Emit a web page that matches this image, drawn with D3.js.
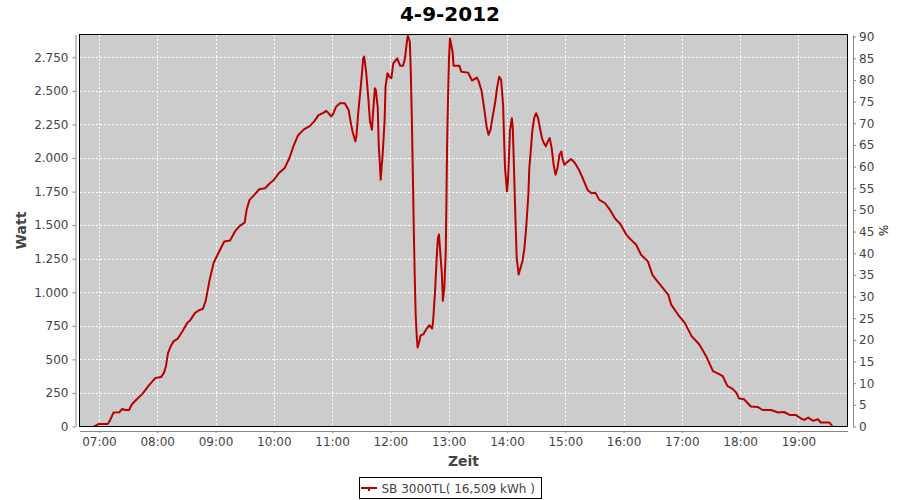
<!DOCTYPE html>
<html>
<head>
<meta charset="utf-8">
<script src="https://cdn.jsdelivr.net/npm/d3@7"></script>
<style>
  html, body { margin: 0; padding: 0; background: #fff; }
  svg { display: block; font-family: "DejaVu Sans", sans-serif; }
</style>
</head>
<body>
<svg id="chart" width="900" height="500"></svg>
<script>
// ---- data ----
const chartTitle = "4-9-2012";
const seriesName = "SB 3000TL( 16,509 kWh )";
const times = [
  "06:55","07:00","07:09","07:11","07:15","07:21","07:24","07:27","07:31","07:34",
  "07:39","07:45","07:51","07:58","08:04","08:07","08:09","08:11","08:14","08:17",
  "08:21","08:26","08:31","08:34","08:39","08:43","08:47","08:50","08:54","08:58",
  "09:03","09:09","09:15","09:20","09:25","09:30","09:32","09:35","09:39","09:45",
  "09:51","09:56","10:00","10:05","10:11","10:16","10:20","10:25","10:31","10:37",
  "10:42","10:46","10:51","10:54","10:56","10:59","11:01","11:04","11:08","11:13",
  "11:17","11:19","11:21","11:24","11:25","11:27","11:30","11:32","11:33","11:35",
  "11:37","11:39","11:41","11:42","11:44","11:45","11:47","11:48","11:49","11:50",
  "11:52","11:54","11:55","11:57","11:59","12:01","12:03","12:07","12:10","12:13",
  "12:15","12:17","12:18","12:20","12:21","12:22","12:23","12:24","12:25","12:26",
  "12:27","12:28","12:30","12:31","12:34","12:37","12:40","12:43","12:44","12:46",
  "12:48","12:49","12:50","12:51","12:53","12:54","12:55:30","12:57","12:57:40","12:58:20",
  "12:59:20","13:00:20","13:01:20","13:02","13:04","13:05","13:11","13:13","13:20","13:24",
  "13:29","13:31","13:34","13:37","13:39","13:41","13:43","13:45","13:48","13:50",
  "13:52","13:54","13:56","13:57","13:58","14:00","14:01","14:02","14:03","14:05",
  "14:06","14:07","14:08","14:09","14:10","14:12","14:14","14:16","14:18","14:20",
  "14:22","14:23","14:25","14:26","14:28","14:30","14:32","14:34","14:36","14:38",
  "14:40","14:42","14:44","14:46","14:48","14:50","14:52","14:54","14:56","14:57",
  "14:59","15:03","15:06","15:10","15:14","15:18","15:23","15:27","15:31","15:35",
  "15:41","15:46","15:51","15:54","15:56","16:01","16:03","16:06","16:13","16:18",
  "16:25","16:30","16:37","16:44","16:46","16:49","16:56","17:03","17:10","17:18",
  "17:25","17:32","17:37","17:42","17:47","17:52","17:56","17:59","18:04","18:11",
  "18:18","18:23","18:32","18:39","18:45","18:51","18:57","19:03","19:06","19:10",
  "19:15","19:20","19:23","19:32","19:35"
];
const watts = [
  0,19,19,40,104,106,131,123,123,166,
  203,245,302,361,368,401,450,544,599,636,
  653,710,772,792,846,866,876,940,1094,1218,
  1292,1378,1386,1453,1495,1519,1614,1688,1718,1767,
  1775,1812,1836,1886,1923,1998,2084,2170,2213,2237,
  2277,2319,2336,2351,2336,2310,2326,2381,2408,2408,
  2358,2272,2198,2124,2161,2346,2569,2742,2755,2643,
  2470,2272,2210,2321,2519,2507,2371,2098,1975,1839,
  2024,2272,2532,2631,2606,2594,2705,2742,2688,2688,
  2742,2866,2911,2866,2643,2321,1925,1504,1133,836,
  688,589,639,676,688,725,754,730,787,1010,
  1307,1406,1430,1331,1133,936,1034,1307,1678,2074,
  2445,2742,2891,2866,2792,2688,2688,2643,2636,2577,
  2599,2569,2495,2346,2235,2173,2210,2297,2421,2532,
  2606,2581,2395,2148,1925,1752,1827,2000,2198,2297,
  2222,1975,1727,1480,1257,1133,1183,1233,1331,1504,
  1727,1925,2098,2198,2297,2334,2297,2222,2148,2111,
  2087,2124,2148,2074,1950,1876,1925,2024,2049,2000,
  1950,1975,1992,1963,1913,1849,1762,1737,1742,1688,
  1663,1614,1552,1527,1515,1453,1428,1403,1354,1279,
  1230,1125,1063,999,982,908,834,772,673,611,
  524,413,396,376,301,282,252,208,203,149,
  146,123,123,104,108,86,86,59,49,67,
  42,54,30,30,0
];
const wattTicks = [0,250,500,750,1000,1250,1500,1750,2000,2250,2500,2750];
const pctTicks = [0,5,10,15,20,25,30,35,40,45,50,55,60,65,70,75,80,85,90];
const hourTicks = ["07:00","08:00","09:00","10:00","11:00","12:00","13:00","14:00","15:00","16:00","17:00","18:00","19:00"];
const timeStart = "06:40", timeEnd = "19:50:30";
const wattMax = 2920, pctMax = 90.5;
const yLabel = "Watt", y2Label = "%", xLabel = "Zeit";

// ---- helpers ----
function parseT(s) {
  const p = s.split(":").map(Number);
  return new Date(2012, 8, 4, p[0], p[1], p[2] || 0);
}
const de = d3.formatLocale({decimal: ",", thousands: ".", grouping: [3], currency: ["", "€"]});
const fmtWatt = de.format(",d");
const fmtTime = d3.timeFormat("%H:%M");

const data = times.map((t, i) => ({t: parseT(t), v: watts[i]}));

// ---- layout ----
const L = 79.5, R = 847.5, T = 34.5, B = 426.5;
const svg = d3.select("#chart");
const x = d3.scaleTime().domain([parseT(timeStart), parseT(timeEnd)]).range([L, R]);
const y = d3.scaleLinear().domain([0, wattMax]).range([B, T]);
const y2 = d3.scaleLinear().domain([0, pctMax]).range([B, T]);

svg.append("rect").attr("width", 900).attr("height", 500).attr("fill", "#fff");

// title
svg.append("text").attr("x", 450).attr("y", 21).attr("text-anchor", "middle")
  .attr("font-size", 20).attr("font-weight", "bold").attr("fill", "#000").text(chartTitle);

// plot background
svg.append("rect").attr("x", L).attr("y", T).attr("width", R - L).attr("height", B - T)
  .attr("fill", "#cccccc");

// gridlines
const grid = svg.append("g").attr("stroke", "#fff").attr("stroke-width", 1)
  .attr("stroke-dasharray", "2,2").attr("shape-rendering", "crispEdges");
grid.selectAll("line.v").data(hourTicks.map(parseT)).join("line")
  .attr("x1", d => Math.round(x(d)) + 0.5).attr("x2", d => Math.round(x(d)) + 0.5)
  .attr("y1", T).attr("y2", B);
grid.selectAll("line.h").data(wattTicks.filter(d => d > 0)).join("line")
  .attr("y1", d => Math.round(y(d)) + 0.5).attr("y2", d => Math.round(y(d)) + 0.5)
  .attr("x1", L).attr("x2", R);

// series line
svg.append("defs").append("clipPath").attr("id", "clip")
  .append("rect").attr("x", L).attr("y", T).attr("width", R - L).attr("height", B - T);
svg.append("path").datum(data)
  .attr("clip-path", "url(#clip)")
  .attr("fill", "none").attr("stroke", "#b80000").attr("stroke-width", 2)
  .attr("stroke-linejoin", "round")
  .attr("d", d3.line().x(d => x(d.t)).y(d => y(d.v)));

// plot border
svg.append("rect").attr("x", L).attr("y", T).attr("width", R - L).attr("height", B - T)
  .attr("fill", "none").attr("stroke", "#000").attr("stroke-width", 1)
  .attr("shape-rendering", "crispEdges");

// axes
function styleAxis(g) {
  g.selectAll("path.domain").attr("stroke", "#888");
  g.selectAll(".tick line").attr("stroke", "#888");
  g.selectAll(".tick text").attr("fill", "#444").attr("font-size", 12)
    .attr("font-family", "DejaVu Sans, sans-serif");
}
const yAxisG = svg.append("g").attr("transform", `translate(${L - 4},0)`)
  .call(d3.axisLeft(y).tickValues(wattTicks).tickFormat(fmtWatt).tickSize(3).tickSizeOuter(0).tickPadding(4));
styleAxis(yAxisG);

const y2AxisG = svg.append("g").attr("transform", `translate(${R + 5.5},0)`)
  .call(d3.axisRight(y2).tickValues(pctTicks).tickSize(3).tickSizeOuter(0).tickPadding(3));
styleAxis(y2AxisG);

const xAxisG = svg.append("g").attr("transform", `translate(0,${B + 4.5})`)
  .call(d3.axisBottom(x).tickValues(hourTicks.map(parseT)).tickFormat(fmtTime).tickSize(2).tickSizeOuter(0).tickPadding(4));
styleAxis(xAxisG);

// axis labels
svg.append("text").attr("transform", `translate(26,${(T + B) / 2}) rotate(-90)`)
  .attr("text-anchor", "middle").attr("font-size", 14).attr("font-weight", "bold")
  .attr("fill", "#444").text(yLabel);
svg.append("text").attr("x", (L + R) / 2).attr("y", 466).attr("text-anchor", "middle")
  .attr("font-size", 14).attr("font-weight", "bold").attr("fill", "#444").text(xLabel);
svg.append("text").attr("transform", `translate(879,${(T + B) / 2}) rotate(90)`)
  .attr("text-anchor", "middle").attr("font-size", 12).attr("fill", "#222").text(y2Label);

// legend
const lg = svg.append("g");
lg.append("rect").attr("x", 359.5).attr("y", 477.5).attr("width", 182).attr("height", 21)
  .attr("fill", "#fff").attr("stroke", "#000").attr("stroke-width", 1);
lg.append("line").attr("x1", 361).attr("x2", 377).attr("y1", 488).attr("y2", 488)
  .attr("stroke", "#b80000").attr("stroke-width", 2);
lg.append("rect").attr("x", 368).attr("y", 487).attr("width", 2).attr("height", 4).attr("fill", "#b80000");
lg.append("text").attr("x", 381.5).attr("y", 492.5).attr("font-size", 12).attr("fill", "#444")
  .text(seriesName);
</script>
</body>
</html>
